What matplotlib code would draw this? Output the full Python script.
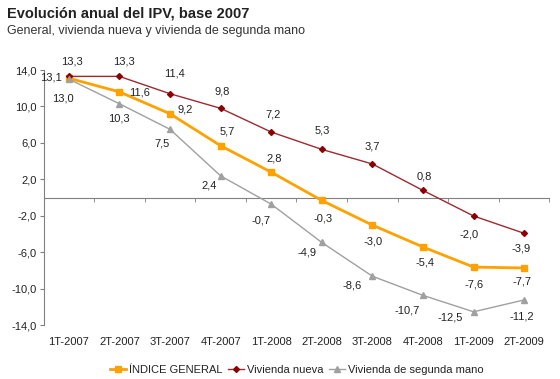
import matplotlib.pyplot as plt

plt.rcParams['font.family'] = ['Liberation Sans', 'DejaVu Sans']

general_color = '#FFA200'
nueva_color = '#9E2A2F'
segunda_color = '#A0A0A0'
axis_color = '#808080'
text_color = '#222222'

periods = ['1T-2007', '2T-2007', '3T-2007', '4T-2007', '1T-2008',
           '2T-2008', '3T-2008', '4T-2008', '1T-2009', '2T-2009']
indice_general = [13.1, 11.6, 9.2, 5.7, 2.8, -0.3, -3.0, -5.4, -7.6, -7.7]
vivienda_nueva = [13.3, 13.3, 11.4, 9.8, 7.2, 5.3, 3.7, 0.8, -2.0, -3.9]
segunda_mano = [13.0, 10.3, 7.5, 2.4, -0.7, -4.9, -8.6, -10.7, -12.5, -11.2]
y_ticks = [14, 10, 6, 2, -2, -6, -10, -14]

# label offsets in pixels (x right, y up)
off_general = [(-18, 1), (20, -1), (15, 4), (7, 14), (3, 14),
               (1, -18), (1, -16), (2, -15), (0, -17), (-2, -13)]
off_nueva = [(3, 15), (5, 15), (4, 20), (2, 17), (2, 18),
             (0, 19), (0, 17), (1, 14), (-5, -19), (-3, -15)]
off_segunda = [(-6, -19), (0, -15), (-8, -14), (-11, -10), (-10, -16),
               (-15, -10), (-20, -9), (-16, -15), (-23, -6), (-2, -17)]

x = list(range(len(periods)))

fig = plt.figure(figsize=(5.6, 3.79), dpi=100)
ax = fig.add_axes([0.0777, 0.1412, 0.9035, 0.6741])

ax.plot(x, indice_general, color=general_color, lw=2, marker='s', ms=5,
        label='ÍNDICE GENERAL', zorder=3)
ax.plot(x, vivienda_nueva, color=nueva_color, lw=1, marker='D', ms=3,
        mfc='#8B0000', mec='#8B0000', label='Vivienda nueva', zorder=3)
ax.plot(x, segunda_mano, color=segunda_color, lw=1, marker='^', ms=4.5,
        label='Vivienda de segunda mano', zorder=3)

def fmt(v):
    return f'{v:.1f}'.replace('.', ',')

for vals, offs in [(indice_general, off_general), (vivienda_nueva, off_nueva),
                   (segunda_mano, off_segunda)]:
    for xi, v, (dx, dy) in zip(x, vals, offs):
        ax.annotate(fmt(v), (xi, v), xytext=(dx, dy), textcoords='offset pixels',
                    ha='center', va='center', fontsize=8, color=text_color)

ax.set_xlim(-0.5, len(periods) - 0.5)
ax.set_ylim(-14, 14)

ax.spines['top'].set_visible(False)
ax.spines['right'].set_visible(False)
ax.spines['left'].set_color(axis_color)
ax.spines['bottom'].set_color(axis_color)
ax.spines['bottom'].set_position(('data', 0))

ax.set_yticks(y_ticks)
ax.set_yticklabels([fmt(t) for t in y_ticks])
ax.tick_params(axis='y', direction='out', length=3, color=axis_color,
               labelsize=8, labelcolor=text_color, pad=2)

ax.set_xticks([])
ax.set_xticks([i - 0.5 for i in range(len(periods) + 1)], minor=True)
ax.tick_params(axis='x', which='minor', direction='out', length=3, color=axis_color)

for xi, lab in zip(x, periods):
    ax.text(xi, -0.065, lab, transform=ax.get_xaxis_transform(),
            ha='center', va='center', fontsize=8, color=text_color)

fig.text(0.012, 0.965, 'Evolución anual del IPV, base 2007', fontsize=10.5,
         fontweight='bold', color='#222222', va='center')
fig.text(0.012, 0.918, 'General, vivienda nueva y vivienda de segunda mano',
         fontsize=9, color='#333333', va='center')

ax.legend(loc='center', bbox_to_anchor=(0.5, -0.174), ncol=3, frameon=False,
          fontsize=8, handlelength=1.5, handletextpad=0.2, columnspacing=0.5,
          labelcolor=text_color)

fig.savefig('out.png', dpi=100)
